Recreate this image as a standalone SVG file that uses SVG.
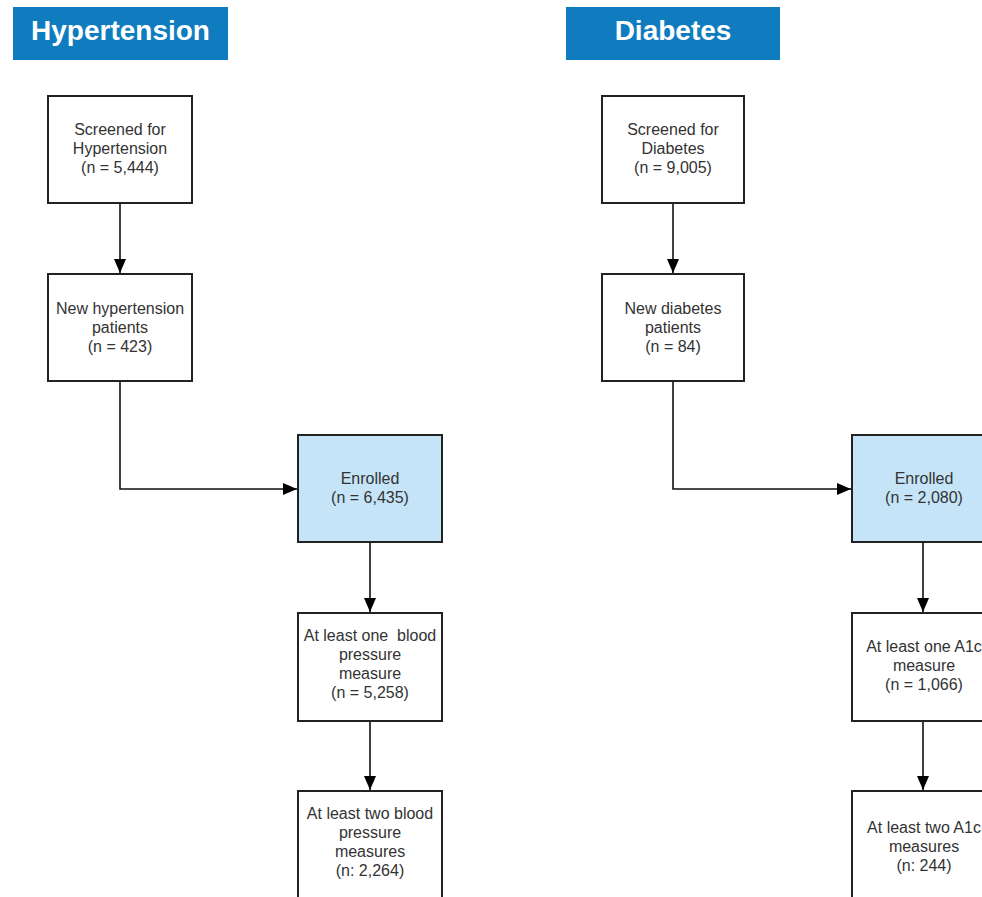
<svg xmlns="http://www.w3.org/2000/svg" width="982" height="897" viewBox="0 0 982 897">
<style>
.banner{fill:#0e7cbf;}
.btxt{font-family:"Liberation Sans",Arial,sans-serif;font-weight:bold;font-size:28px;fill:#ffffff;text-anchor:middle;}
.box{fill:#ffffff;stroke:#222222;stroke-width:2;}
.enr{fill:#c5e4f7;stroke:#222222;stroke-width:2;}
.t{font-family:"Liberation Sans",Arial,sans-serif;font-size:16px;fill:#333333;text-anchor:middle;white-space:pre;}
.c{fill:none;stroke:#111111;stroke-width:1.6;}
</style>
<defs>
<marker id="ah" viewBox="0 0 14 12" refX="14" refY="6" markerWidth="14" markerHeight="12" markerUnits="userSpaceOnUse" orient="auto">
<path d="M0,0 L14,6 L0,12 Z" fill="#000000"/>
</marker>
</defs>
<rect width="982" height="897" fill="#ffffff"/>
<g id="banner-hypertension">
<rect class="banner" x="13" y="7" width="215" height="53"/>
<text class="btxt" x="120.5" y="40">Hypertension</text>
</g>
<g id="banner-diabetes">
<rect class="banner" x="566" y="7" width="214" height="53"/>
<text class="btxt" x="673" y="40">Diabetes</text>
</g>
<g id="connectors">
<path class="c" d="M120,203 V273" marker-end="url(#ah)"/>
<path class="c" d="M120,381 V489 H297" marker-end="url(#ah)"/>
<path class="c" d="M370,542 V612" marker-end="url(#ah)"/>
<path class="c" d="M370,721 V790" marker-end="url(#ah)"/>
<path class="c" d="M673,203 V273" marker-end="url(#ah)"/>
<path class="c" d="M673,381 V489 H851" marker-end="url(#ah)"/>
<path class="c" d="M923,542 V612" marker-end="url(#ah)"/>
<path class="c" d="M923,721 V790" marker-end="url(#ah)"/>
</g>
<g id="ht-screened">
<rect class="box" x="48" y="96" width="144" height="107"/>
<text class="t" x="120" y="135">Screened for</text>
<text class="t" x="120" y="154">Hypertension</text>
<text class="t" x="120" y="173">(n = 5,444)</text>
</g>
<g id="ht-new">
<rect class="box" x="48" y="274" width="144" height="107"/>
<text class="t" x="120" y="314">New hypertension</text>
<text class="t" x="120" y="333">patients</text>
<text class="t" x="120" y="352">(n = 423)</text>
</g>
<g id="ht-enrolled">
<rect class="enr" x="298" y="435" width="144" height="107"/>
<text class="t" x="370" y="484">Enrolled</text>
<text class="t" x="370" y="503">(n = 6,435)</text>
</g>
<g id="ht-one">
<rect class="box" x="298" y="613" width="144" height="108"/>
<text class="t" x="370" y="641">At least one  blood</text>
<text class="t" x="370" y="660">pressure</text>
<text class="t" x="370" y="679">measure</text>
<text class="t" x="370" y="698">(n = 5,258)</text>
</g>
<g id="ht-two">
<rect class="box" x="298" y="791" width="144" height="110"/>
<text class="t" x="370" y="819">At least two blood</text>
<text class="t" x="370" y="838">pressure</text>
<text class="t" x="370" y="857">measures</text>
<text class="t" x="370" y="876">(n: 2,264)</text>
</g>
<g id="db-screened">
<rect class="box" x="602" y="96" width="142" height="107"/>
<text class="t" x="673" y="135">Screened for</text>
<text class="t" x="673" y="154">Diabetes</text>
<text class="t" x="673" y="173">(n = 9,005)</text>
</g>
<g id="db-new">
<rect class="box" x="602" y="274" width="142" height="107"/>
<text class="t" x="673" y="314">New diabetes</text>
<text class="t" x="673" y="333">patients</text>
<text class="t" x="673" y="352">(n = 84)</text>
</g>
<g id="db-enrolled">
<rect class="enr" x="852" y="435" width="144" height="107"/>
<text class="t" x="924" y="484">Enrolled</text>
<text class="t" x="924" y="503">(n = 2,080)</text>
</g>
<g id="db-one">
<rect class="box" x="852" y="613" width="144" height="108"/>
<text class="t" x="924" y="652">At least one A1c</text>
<text class="t" x="924" y="671">measure</text>
<text class="t" x="924" y="690">(n = 1,066)</text>
</g>
<g id="db-two">
<rect class="box" x="852" y="791" width="144" height="110"/>
<text class="t" x="924" y="833">At least two A1c</text>
<text class="t" x="924" y="852">measures</text>
<text class="t" x="924" y="871">(n: 244)</text>
</g>
</svg>
